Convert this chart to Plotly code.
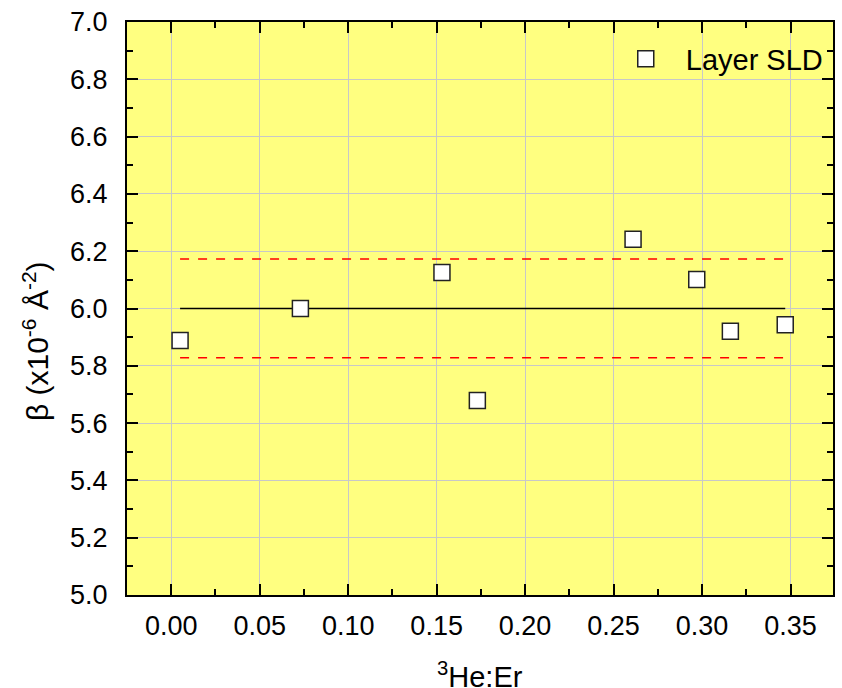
import plotly.graph_objects as go

# Data
he_er = [0.005, 0.073, 0.153, 0.173, 0.261, 0.297, 0.316, 0.347]
sld = [5.888, 6.000, 6.126, 5.679, 6.242, 6.101, 5.921, 5.943]

line_x = [0.005, 0.347]
mean_val = [6.0, 6.0]
upper_val = [6.173, 6.173]
lower_val = [5.828, 5.828]

x_ticks = [0.00, 0.05, 0.10, 0.15, 0.20, 0.25, 0.30, 0.35]
y_ticks = [5.0, 5.2, 5.4, 5.6, 5.8, 6.0, 6.2, 6.4, 6.6, 6.8, 7.0]

font_family = "Liberation Sans, Arial, sans-serif"

fig = go.Figure()
fig.add_trace(go.Scatter(x=line_x, y=upper_val, mode="lines",
                         line=dict(color="#ff0000", width=1.5, dash="dash"),
                         showlegend=False, hoverinfo="skip"))
fig.add_trace(go.Scatter(x=line_x, y=lower_val, mode="lines",
                         line=dict(color="#ff0000", width=1.5, dash="dash"),
                         showlegend=False, hoverinfo="skip"))
fig.add_trace(go.Scatter(x=line_x, y=mean_val, mode="lines",
                         line=dict(color="#000000", width=1.5),
                         showlegend=False, hoverinfo="skip"))
fig.add_trace(go.Scatter(x=he_er, y=sld, mode="markers", name="Layer SLD",
                         marker=dict(symbol="square", size=16, color="white",
                                     line=dict(color="#222222", width=1.5))))

axis_common = dict(
    showline=True, linecolor="black", linewidth=2, mirror="ticks",
    ticks="inside", ticklen=11, tickwidth=2, tickcolor="black",
    showgrid=True, gridcolor="#c8c8c8", gridwidth=1, zeroline=False,
    tickfont=dict(family=font_family, size=27, color="black"),
    automargin=False,
)

fig.update_xaxes(
    range=[-0.025, 0.374], tickvals=x_ticks,
    ticktext=[f"{v:.2f}" for v in x_ticks],
    minor=dict(ticks="inside", ticklen=6, tickwidth=2, tickcolor="black",
               dtick=0.025, tick0=0, showgrid=False),
    ticklabelstandoff=6,
    **axis_common)
fig.update_yaxes(
    range=[5.0, 7.0], tickvals=y_ticks,
    ticktext=[f"{v:.1f}" for v in y_ticks],
    minor=dict(ticks="inside", ticklen=6, tickwidth=2, tickcolor="black",
               dtick=0.1, tick0=5.0, showgrid=False),
    ticklabelstandoff=12,
    **axis_common)

fig.add_annotation(
    text="β (x10<sup>-6</sup> Å<sup>-2</sup>)", textangle=-90,
    xref="paper", yref="paper", x=-0.129, y=0.443,
    xanchor="center", yanchor="middle", showarrow=False,
    font=dict(family=font_family, size=30, color="black"))

fig.add_annotation(
    text="<sup>3</sup>He:Er",
    xref="paper", yref="paper", x=0.5, y=-0.174,
    xanchor="center", yanchor="bottom", showarrow=False,
    font=dict(family=font_family, size=29, color="black"))

fig.update_layout(
    width=842, height=688,
    margin=dict(l=127, r=9, t=22, b=93),
    plot_bgcolor="#ffff80", paper_bgcolor="white",
    font=dict(family=font_family, color="black"),
    legend=dict(x=0.994, y=0.98, xanchor="right", yanchor="top",
                bgcolor="rgba(0,0,0,0)", borderwidth=0, itemwidth=70,
                font=dict(family=font_family, size=29, color="black")),
)

fig.write_html("out.html")
